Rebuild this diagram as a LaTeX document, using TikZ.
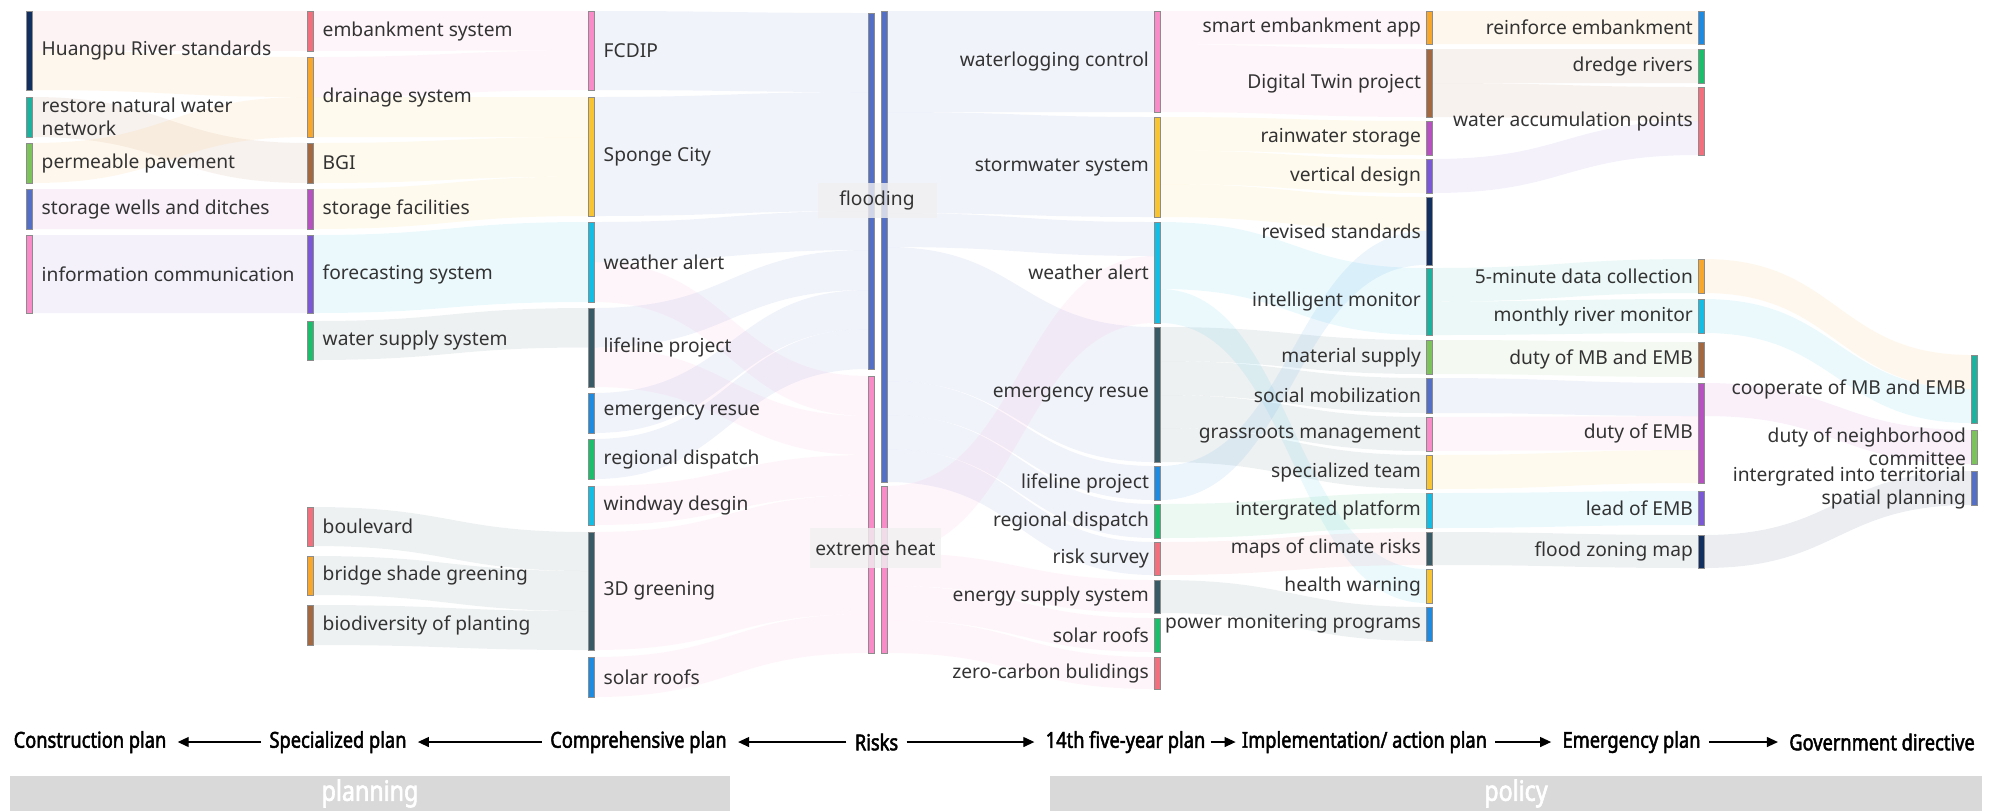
\documentclass[tikz,border=0pt]{standalone}
\usepackage{fontspec}
\setmainfont{Noto Sans}
\newfontfamily\axisfont{Noto Sans}[FakeStretch=0.83, FakeBold=2.2]
\usetikzlibrary{arrows.meta}
\definecolor{cNavy}{HTML}{12305F}
\definecolor{cTeal}{HTML}{1BB3A0}
\definecolor{cLGreen}{HTML}{7DC35B}
\definecolor{cBP}{HTML}{5470C6}
\definecolor{cPink}{HTML}{F98BC9}
\definecolor{cSalmon}{HTML}{F2707E}
\definecolor{cOrange}{HTML}{F7A72B}
\definecolor{cBrown}{HTML}{A3683F}
\definecolor{cMagenta}{HTML}{B750C0}
\definecolor{cViolet}{HTML}{7B58D6}
\definecolor{cEmerald}{HTML}{1BBE6A}
\definecolor{cGold}{HTML}{F9C431}
\definecolor{cCyan}{HTML}{14BDE3}
\definecolor{cSlate}{HTML}{385A66}
\definecolor{cBlue}{HTML}{1E8AE0}
\definecolor{cText}{HTML}{333333}
\definecolor{cZone}{HTML}{D9D9D9}
\tikzset{
  sbarst/.style={rectangle, draw=black!45, line width=0.3pt, inner sep=0pt, minimum width=3pt},
  lbl/.style={font=\fontsize{9.6pt}{11.4pt}\selectfont, text=cText, inner sep=0pt},
  riskbox/.style={fill=black!6, fill opacity=0.8, text opacity=1, inner sep=0pt,
    font=\fontsize{9.6pt}{11.4pt}\selectfont, text=cText},
  axislbl/.style={font=\axisfont\fontsize{11pt}{12pt}\selectfont, text=black, inner sep=0pt},
  arr/.style={-{Triangle[length=5.5pt,width=5pt]}, line width=0.6pt, shorten <=4pt, shorten >=5.5pt},
  zone/.style={fill=cZone, inner sep=0pt, minimum height=17.5pt, text=white,
    font=\axisfont\fontsize{14pt}{15pt}\selectfont},
  bandst/.style={fill opacity=0.085}
}
% bar node: name, x-left, y-top, y-bottom, colour
\newcommand\sbar[5]{\node[sbarst, fill=#5, minimum height={(#4-#3)*0.5pt}] (#1) at ({#2+3},{(#3+#4)/2}) {};}
% label to the right of a bar
\newcommand\lblR[2]{\node[lbl, anchor=west, align=left] (#1-l) at ([xshift=4.5pt]#1.east) {#2};}
% label to the left of a bar
\newcommand\lblL[2]{\node[lbl, anchor=east, align=right] (#1-l) at ([xshift=-2.2pt]#1.west) {#2};}
% sankey band: x1 y1top y1bot x2 y2top y2bot colour
\newcommand\band[7]{\fill[#7, bandst] (#1,#2) .. controls ({(#1+#4)/2},#2) and ({(#1+#4)/2},#5) .. (#4,#5) -- (#4,#6) .. controls ({(#1+#4)/2},#6) and ({(#1+#4)/2},#3) .. (#1,#3) -- cycle;}
\begin{document}
\begin{tikzpicture}[x=0.5pt, y=-0.5pt]
\useasboundingbox (0,0) rectangle (2000,811);
% ---------------- bands (left part) ----------------
\band{32}{11}{50.5}{307}{11}{51}{cSalmon}
\band{32}{50.5}{90}{307}{57}{97}{cOrange}
\band{32}{97}{137}{307}{143}{183}{cBrown}
\band{32}{143}{183}{307}{97}{137}{cOrange}
\band{32}{189}{229}{307}{189}{229}{cMagenta}
\band{32}{235}{313}{307}{235}{313}{cViolet}
\band{313}{11}{51}{588}{11}{50.5}{cPink}
\band{313}{57}{97}{588}{50.5}{90}{cPink}
\band{313}{97}{137}{588}{97}{137}{cGold}
\band{313}{143}{183}{588}{137}{176.5}{cGold}
\band{313}{189}{229}{588}{176.5}{216}{cGold}
\band{313}{235}{313}{588}{222}{302}{cCyan}
\band{313}{321}{360}{588}{308}{347.5}{cSlate}
\band{313}{507}{546}{588}{532}{571}{cSlate}
\band{313}{556}{595}{588}{571}{611}{cSlate}
\band{313}{605}{645}{588}{611}{650}{cSlate}
\band{594}{11}{90}{868}{13}{92}{cBP}
\band{594}{97}{216}{868}{92}{211}{cBP}
\band{594}{222}{262}{868}{211}{250}{cBP}
\band{594}{262}{302}{868}{376}{416}{cPink}
\band{594}{308}{347.5}{868}{250}{290}{cBP}
\band{594}{347.5}{387}{868}{416}{455}{cPink}
\band{594}{393}{433}{868}{290}{329}{cBP}
\band{594}{439}{479}{868}{329}{369}{cBP}
\band{594}{486}{525}{868}{455}{495}{cPink}
\band{594}{532}{650}{868}{495}{614}{cPink}
\band{594}{657}{697}{868}{614}{653}{cPink}
% ---------------- bands (right part) ----------------
\band{887}{11}{112}{1154}{11}{112}{cBP}
\band{887}{112}{213}{1154}{117}{217}{cBP}
\band{887}{213}{247}{1154}{222}{256}{cBP}
\band{887}{247}{381}{1154}{327}{462}{cBP}
\band{887}{381}{415}{1154}{466}{500}{cBP}
\band{887}{415}{449}{1154}{504}{538}{cBP}
\band{887}{449}{482}{1154}{542}{575}{cBP}
\band{887}{486}{553}{1154}{256}{323}{cPink}
\band{887}{553}{586}{1154}{580}{613}{cPink}
\band{887}{586}{620}{1154}{618}{652}{cPink}
\band{887}{620}{653}{1154}{657}{689}{cPink}
\band{1160}{11}{44.6}{1426}{11}{44}{cPink}
\band{1160}{44.6}{112}{1426}{49}{117}{cPink}
\band{1160}{117}{150.5}{1426}{121}{155}{cGold}
\band{1160}{150.5}{184}{1426}{159}{193}{cGold}
\band{1160}{184}{217}{1426}{197}{231}{cGold}
\band{1160}{222}{289}{1426}{268}{335}{cCyan}
\band{1160}{289}{323}{1426}{569}{603}{cCyan}
\band{1160}{327}{361}{1426}{340}{374}{cSlate}
\band{1160}{361}{395}{1426}{378}{413}{cSlate}
\band{1160}{395}{428}{1426}{417}{451}{cSlate}
\band{1160}{428}{462}{1426}{455}{489}{cSlate}
\band{1160}{466}{500}{1426}{231}{265}{cBlue}
\band{1160}{504}{538}{1426}{493}{528}{cEmerald}
\band{1160}{542}{575}{1426}{532}{565}{cSalmon}
\band{1160}{580}{613}{1426}{607}{641}{cSlate}
\band{1432}{11}{44}{1698}{11}{44}{cOrange}
\band{1432}{49}{83}{1698}{49}{83}{cBrown}
\band{1432}{83}{117}{1698}{87}{121}{cBrown}
\band{1432}{159}{193}{1698}{121}{155}{cViolet}
\band{1432}{268}{301.5}{1698}{259}{293}{cTeal}
\band{1432}{301.5}{335}{1698}{299}{333}{cTeal}
\band{1432}{340}{374}{1698}{342}{377}{cLGreen}
\band{1432}{378}{413}{1698}{383}{416}{cBP}
\band{1432}{417}{451}{1698}{416}{450}{cPink}
\band{1432}{455}{489}{1698}{450}{483}{cGold}
\band{1432}{493}{528}{1698}{491}{525}{cCyan}
\band{1432}{532}{565}{1698}{535}{568}{cSlate}
\band{1704}{259}{293}{1971}{355}{389}{cOrange}
\band{1704}{299}{333}{1971}{389}{423}{cCyan}
\band{1704}{383}{416}{1971}{430}{464}{cMagenta}
\band{1704}{535}{568}{1971}{471}{505}{cNavy}
% ---------------- column 1 ----------------
\sbar{HP}{26}{11}{90}{cNavy}        \lblR{HP}{Huangpu River standards}
\sbar{RN}{26}{97}{137}{cTeal}       \lblR{RN}{restore natural water\\network}
\sbar{PP}{26}{143}{183}{cLGreen}    \lblR{PP}{permeable pavement}
\sbar{SW}{26}{189}{229}{cBP}        \lblR{SW}{storage wells and ditches}
\sbar{IC}{26}{235}{313}{cPink}      \lblR{IC}{information communication}
% ---------------- column 2 ----------------
\sbar{ES}{307}{11}{51}{cSalmon}     \lblR{ES}{embankment system}
\sbar{DS}{307}{57}{137}{cOrange}    \lblR{DS}{drainage system}
\sbar{BGI}{307}{143}{183}{cBrown}   \lblR{BGI}{BGI}
\sbar{SF}{307}{189}{229}{cMagenta}  \lblR{SF}{storage facilities}
\sbar{FS}{307}{235}{313}{cViolet}   \lblR{FS}{forecasting system}
\sbar{WS}{307}{321}{360}{cEmerald}  \lblR{WS}{water supply system}
\sbar{BV}{307}{507}{546}{cSalmon}   \lblR{BV}{boulevard}
\sbar{BSG}{307}{556}{595}{cOrange}  \lblR{BSG}{bridge shade greening}
\sbar{BDP}{307}{605}{645}{cBrown}   \lblR{BDP}{biodiversity of planting}
% ---------------- column 3 ----------------
\sbar{FC}{588}{11}{90}{cPink}       \lblR{FC}{FCDIP}
\sbar{SC}{588}{97}{216}{cGold}      \lblR{SC}{Sponge City}
\sbar{WA}{588}{222}{302}{cCyan}     \lblR{WA}{weather alert}
\sbar{LP}{588}{308}{387}{cSlate}    \lblR{LP}{lifeline project}
\sbar{ER}{588}{393}{433}{cBlue}     \lblR{ER}{emergency resue}
\sbar{RD}{588}{439}{479}{cEmerald}  \lblR{RD}{regional dispatch}
\sbar{WD}{588}{486}{525}{cCyan}     \lblR{WD}{windway desgin}
\sbar{GR}{588}{532}{650}{cSlate}    \lblR{GR}{3D greening}
\sbar{SR}{588}{657}{697}{cBlue}     \lblR{SR}{solar roofs}
% ---------------- risks ----------------
\sbar{FLa}{868}{13}{369}{cBP}
\sbar{EHa}{868}{376}{653}{cPink}
\sbar{FLb}{881}{11}{482}{cBP}
\sbar{EHb}{881}{486}{653}{cPink}
\node[riskbox, minimum width=59.5pt, minimum height=17.5pt] (FL-l) at (877,200) {flooding};
\node[riskbox, minimum width=65.5pt, minimum height=20pt] (EH-l) at (875.5,548) {extreme heat};
% ---------------- column 5 ----------------
\sbar{WC}{1154}{11}{112}{cPink}     \lblL{WC}{waterlogging control}
\sbar{SS}{1154}{117}{217}{cGold}    \lblL{SS}{stormwater system}
\sbar{WAb}{1154}{222}{323}{cCyan}   \lblL{WAb}{weather alert}
\sbar{EMb}{1154}{327}{462}{cSlate}  \lblL{EMb}{emergency resue}
\sbar{LPb}{1154}{466}{500}{cBlue}   \lblL{LPb}{lifeline project}
\sbar{RDb}{1154}{504}{538}{cEmerald}\lblL{RDb}{regional dispatch}
\sbar{RS}{1154}{542}{575}{cSalmon}  \lblL{RS}{risk survey}
\sbar{EN}{1154}{580}{613}{cSlate}   \lblL{EN}{energy supply system}
\sbar{SRb}{1154}{618}{652}{cEmerald}\lblL{SRb}{solar roofs}
\sbar{ZC}{1154}{657}{689}{cSalmon}  \lblL{ZC}{zero-carbon bulidings}
% ---------------- column 6 ----------------
\sbar{SE}{1426}{11}{44}{cOrange}    \lblL{SE}{smart embankment app}
\sbar{DT}{1426}{49}{117}{cBrown}    \lblL{DT}{Digital Twin project}
\sbar{RW}{1426}{121}{155}{cMagenta} \lblL{RW}{rainwater storage}
\sbar{VD}{1426}{159}{193}{cViolet}  \lblL{VD}{vertical design}
\sbar{RV}{1426}{197}{265}{cNavy}    \lblL{RV}{revised standards}
\sbar{IM}{1426}{268}{335}{cTeal}    \lblL{IM}{intelligent monitor}
\sbar{MS}{1426}{340}{374}{cLGreen}  \lblL{MS}{material supply}
\sbar{SMo}{1426}{378}{413}{cBP}     \lblL{SMo}{social mobilization}
\sbar{GM}{1426}{417}{451}{cPink}    \lblL{GM}{grassroots management}
\sbar{ST}{1426}{455}{489}{cGold}    \lblL{ST}{specialized team}
\sbar{IP}{1426}{493}{528}{cCyan}    \lblL{IP}{intergrated platform}
\sbar{MC}{1426}{532}{565}{cSlate}   \lblL{MC}{maps of climate risks}
\sbar{HW}{1426}{569}{603}{cGold}    \lblL{HW}{health warning}
\sbar{PM}{1426}{607}{641}{cBlue}    \lblL{PM}{power monitering programs}
% ---------------- column 7 ----------------
\sbar{RE}{1698}{11}{44}{cBlue}      \lblL{RE}{reinforce embankment}
\sbar{DR}{1698}{49}{83}{cEmerald}   \lblL{DR}{dredge rivers}
\sbar{WP}{1698}{87}{155}{cSalmon}   \lblL{WP}{water accumulation points}
\sbar{FM}{1698}{259}{293}{cOrange}  \lblL{FM}{5-minute data collection}
\sbar{MR}{1698}{299}{333}{cCyan}    \lblL{MR}{monthly river monitor}
\sbar{DM}{1698}{342}{377}{cBrown}   \lblL{DM}{duty of MB and EMB}
\sbar{DE}{1698}{383}{483}{cMagenta} \lblL{DE}{duty of EMB}
\sbar{LE}{1698}{491}{525}{cViolet}  \lblL{LE}{lead of EMB}
\sbar{FZ}{1698}{535}{568}{cNavy}    \lblL{FZ}{flood zoning map}
% ---------------- column 8 ----------------
\sbar{CO}{1971}{355}{423}{cTeal}    \lblL{CO}{cooperate of MB and EMB}
\sbar{DN}{1971}{430}{464}{cLGreen}  \lblL{DN}{duty of neighborhood\\committee}
\sbar{IT}{1971}{471}{505}{cBP}      \lblL{IT}{intergrated into territorial\\spatial planning}
% ---------------- bottom axis ----------------
\node[axislbl] (cons) at (90,742) {Construction plan};
\node[axislbl] (spec) at (338,742) {Specialized plan};
\node[axislbl] (comp) at (638.5,742) {Comprehensive plan};
\node[axislbl] (risks) at (876.5,742) {Risks};
\node[axislbl] (five) at (1125.5,742) {14th five-year plan};
\node[axislbl] (impl) at (1364.5,742) {Implementation/ action plan};
\node[axislbl] (emer) at (1631.5,742) {Emergency plan};
\node[axislbl] (gov) at (1882,742) {Government directive};
\draw[arr] (spec.west) -- (cons.east);
\draw[arr] (comp.west) -- (spec.east);
\draw[arr] (risks.west) -- (comp.east);
\draw[arr] (risks.east) -- (five.west);
\draw[arr, shorten <=2.5pt, shorten >=3pt] (five.east) -- (impl.west);
\draw[arr] (impl.east) -- (emer.west);
\draw[arr] (emer.east) -- (gov.west);
\node[zone, minimum width=360pt] (planning) at (370,793.5) {planning};
\node[zone, minimum width=466pt] (policy) at (1516,793.5) {policy};
\end{tikzpicture}
\end{document}
